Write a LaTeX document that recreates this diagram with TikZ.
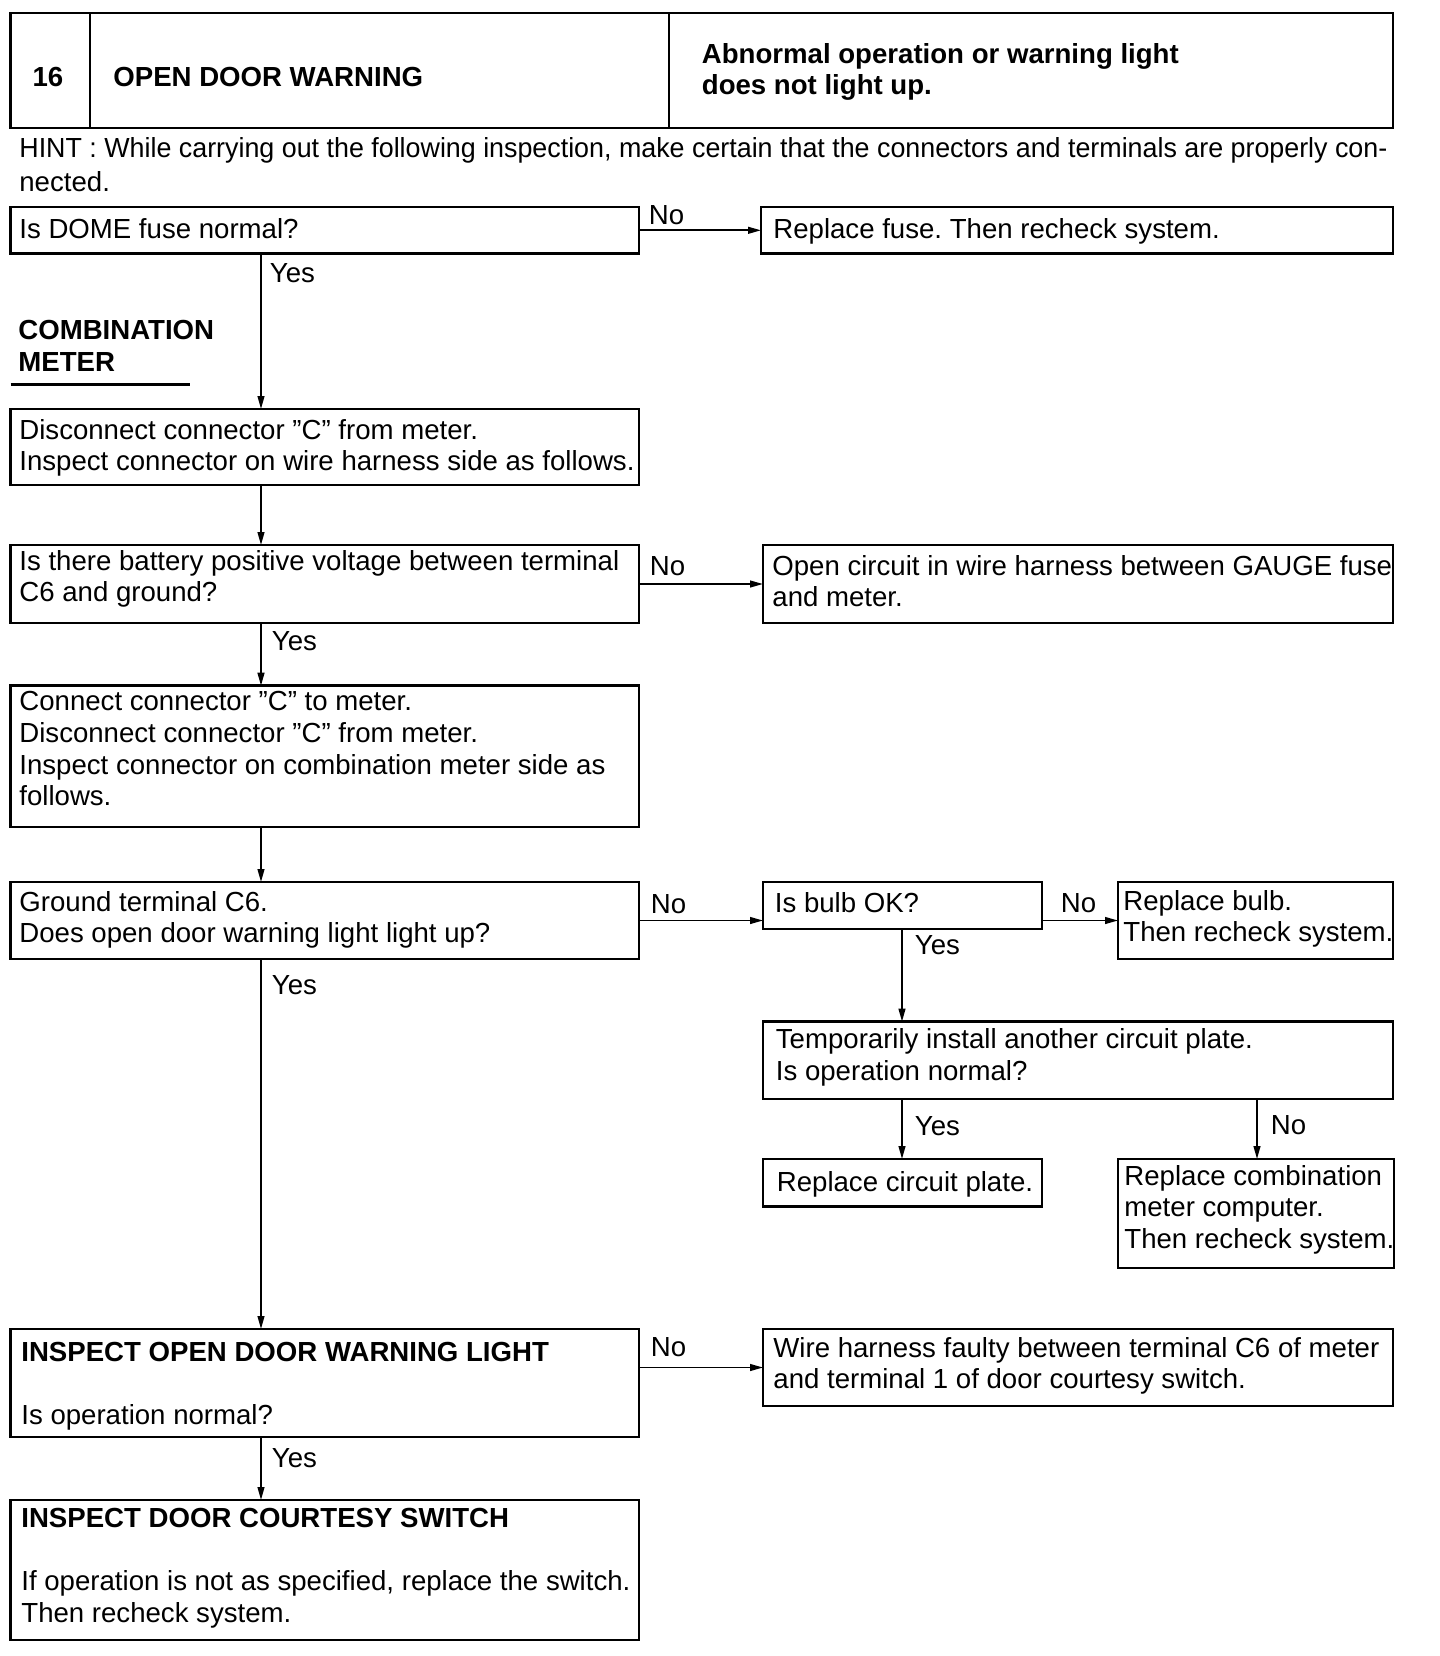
\documentclass[tikz,border=0pt]{standalone}
\usepackage{fontspec}
\usepackage{graphicx}
\setmainfont{Liberation Sans}
\usetikzlibrary{arrows.meta,calc}
\newcommand\fs{\fontsize{13.8}{15.8}\selectfont}
\newcommand\mybox[5]{\node[box, anchor=north west, minimum width={(#4-#2)*0.5pt}, minimum height={(#5-#3)*0.5pt}] (#1) at (#2,#3) {};}
\frenchspacing
\begin{document}
\frenchspacing
\begin{tikzpicture}[x=0.5pt,y=-0.5pt, font=\fs,
 box/.style={draw, line width=1.25pt, inner sep=0pt, outer sep=0pt},
 txt/.style={anchor=north west, inner sep=0pt, align=left},
 lab/.style={inner sep=0pt},
 arr/.style={line width=0.9pt, -{Triangle[length=6.5pt,width=3.4pt]}}]
\useasboundingbox[fill=white] (0,0) rectangle (1440,1656);

% header
\mybox{h1}{10.6}{13}{90}{128}
\mybox{h2}{90}{13}{669}{128}
\mybox{h3}{669}{13}{1393}{128}
\node[anchor=base, inner sep=0pt, font=\fs\bfseries] (t16) at (48,86) {16};
\node[anchor=base west, inner sep=0pt, font=\fs\bfseries] (tod) at (113,86) {OPEN DOOR WARNING};
\node[txt, font=\fs\bfseries] (tab) at (701.5,40.8) {\strut Abnormal operation or warning light\\\strut does not light up.};

% hint
\node[anchor=base west, inner sep=0pt] (hint) at (19,157) {\resizebox{684pt}{\height}{HINT : While carrying out the following inspection, make certain that the connectors and terminals are properly con-}};
\node[anchor=base west, inner sep=0pt] (hint2) at (19,191) {nected.};

% section label
\node[txt, font=\fs\bfseries] (cm) at (18,317.4) {\strut COMBINATION\\\strut METER};
\draw[line width=1.25pt] (10.6,384.6) -- (190,384.6);

% boxes
\mybox{b1}{10.6}{207}{639}{253.6}
\mybox{r1}{761}{207}{1393}{253.6}
\mybox{b2}{10.6}{409}{639}{485}
\mybox{b3}{10.6}{545}{639}{623}
\mybox{r3}{763}{545}{1393}{623}
\mybox{b4}{10.6}{685.7}{639}{827}
\mybox{b5}{10.6}{882}{639}{959}
\mybox{bulb}{763}{882}{1042}{929}
\mybox{rbulb}{1118}{882}{1393}{959}
\mybox{temp}{763}{1021.6}{1393}{1099}
\mybox{rcp}{763}{1159}{1042}{1206.5}
\mybox{rcmb}{1118}{1159}{1394}{1268}
\mybox{b6}{10.6}{1329}{639}{1437}
\mybox{wire}{763}{1329}{1393}{1406}
\mybox{b7}{10.6}{1500}{639}{1640}

% box texts
\node[txt] (b1t) at (19,215.8) {\strut Is DOME fuse normal?};
\node[txt] (r1t) at (773,215.8) {\strut Replace fuse. Then recheck system.};
\node[txt] (b2t) at (19,416.8) {\strut Disconnect connector ”C” from meter.\\\strut Inspect connector on wire harness side as follows.};
\node[txt] (b3t) at (19,547.8) {\strut Is there battery positive voltage between terminal\\\strut C6 and ground?};
\node[txt] (r3t) at (772,552.8) {\strut Open circuit in wire harness between GAUGE fuse\\\strut and meter.};
\node[txt] (b4t) at (19,688.3) {\strut Connect connector ”C” to meter.\\\strut Disconnect connector ”C” from meter.\\\strut Inspect connector on combination meter side as\\\strut follows.};
\node[txt] (b5t) at (19,888.8) {\strut Ground terminal C6.\\\strut Does open door warning light light up?};
\node[txt] (bulbt) at (774.5,889.8) {\strut Is bulb OK?};
\node[txt] (rbulbt) at (1123,887.8) {\strut Replace bulb.\\\strut Then recheck system.};
\node[txt] (tempt) at (775.5,1026.4) {\strut Temporarily install another circuit plate.\\\strut Is operation normal?};
\node[txt] (rcpt) at (776.5,1168.8) {\strut Replace circuit plate.};
\node[txt] (rcmbt) at (1124,1162.8) {\strut Replace combination\\\strut meter computer.\\\strut Then recheck system.};
\node[txt, font=\fs] (b6t) at (21,1338.8) {\strut\textbf{INSPECT OPEN DOOR WARNING LIGHT}\\\strut\\\strut Is operation normal?};
\node[txt] (wiret) at (773,1334.8) {\strut Wire harness faulty between terminal C6 of meter\\\strut and terminal 1 of door courtesy switch.};
\node[txt] (b7t) at (21,1504.8) {\strut\textbf{INSPECT DOOR COURTESY SWITCH}\\\strut\\\strut If operation is not as specified, replace the switch.\\\strut Then recheck system.};

% columns
\coordinate (c1) at (261,0);
\coordinate (c2) at (902,0);
\coordinate (c3) at (1257,0);

% connectors
\draw[arr] (b1.south -| c1) -- node[lab, anchor=north west, pos=0, xshift=4pt, yshift=-4.5pt] {Yes} (b2.north -| c1);
\draw[arr] (b2.south -| c1) -- (b3.north -| c1);
\draw[arr] (b3.south -| c1) -- node[lab, anchor=north west, pos=0, xshift=5pt, yshift=-4pt] {Yes} (b4.north -| c1);
\draw[arr] (b4.south -| c1) -- (b5.north -| c1);
\draw[arr] (b5.south -| c1) -- node[lab, anchor=north west, pos=0, xshift=5pt, yshift=-8pt] {Yes} (b6.north -| c1);
\draw[arr] (b6.south -| c1) -- node[lab, anchor=north west, pos=0, xshift=5pt, yshift=-5.5pt] {Yes} (b7.north -| c1);

\draw[arr] (b1.east) -- node[lab, anchor=south west, pos=0, xshift=4.5pt, yshift=2.5pt] {No} (r1.west);
\draw[arr] (b3.east) -- node[lab, anchor=south west, pos=0, xshift=5pt, yshift=3.5pt] {No} (r3.west);
\draw[arr] (b5.east) -- node[lab, anchor=south west, pos=0, xshift=5.5pt, yshift=3pt] {No} (b5.east -| bulb.west);
\draw[arr] (rbulb.west -| bulb.east) -- node[lab, anchor=south west, pos=0, xshift=9pt, yshift=3.5pt] {No} (rbulb.west);
\draw[arr] (wire.west -| b6.east) -- node[lab, anchor=south west, pos=0, xshift=5.5pt, yshift=5pt] {No} (wire.west);

\draw[arr] (bulb.south -| c2) -- node[lab, anchor=north west, pos=0, xshift=6pt, yshift=-2.8pt] {Yes} (temp.north -| c2);
\draw[arr] (temp.south -| c2) -- node[lab, anchor=north west, pos=0, xshift=6pt, yshift=-8.5pt] {Yes} (rcp.north -| c2);
\draw[arr] (temp.south -| c3) -- node[lab, anchor=north west, pos=0, xshift=6.5pt, yshift=-8pt] {No} (rcmb.north -| c3);
\end{tikzpicture}
\end{document}
